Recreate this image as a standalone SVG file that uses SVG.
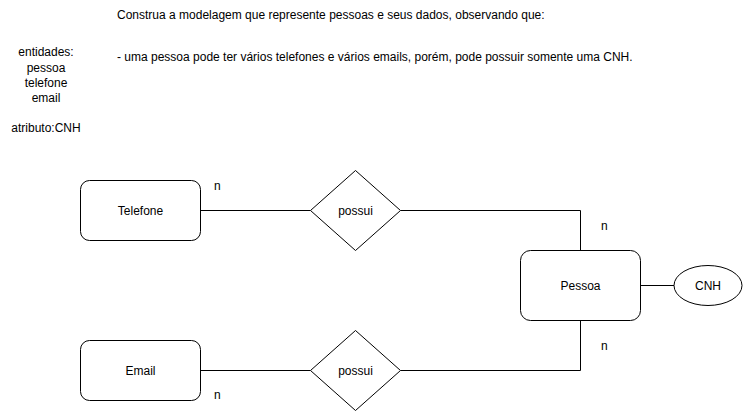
<svg xmlns="http://www.w3.org/2000/svg" width="745" height="411" viewBox="0 0 745 411">
<style>
text{font-family:"Liberation Sans",Arial,sans-serif;font-size:12px;fill:#000}
.c{text-anchor:middle}
.shape{fill:#fff;stroke:#000;stroke-width:1}
.edge{fill:none;stroke:#000;stroke-width:1}
</style>
<rect width="745" height="411" fill="#fff"/>
<g id="texts">
<text x="117" y="19">Construa a modelagem que represente pessoas e seus dados, observando que:</text>
<text x="117" y="61">- uma pessoa pode ter vários telefones e vários emails, porém, pode possuir somente uma CNH.</text>
<text class="c" x="46" y="56">entidades:</text>
<text class="c" x="46" y="72">pessoa</text>
<text class="c" x="46" y="87">telefone</text>
<text class="c" x="46" y="102">email</text>
<text class="c" x="46" y="132">atributo:CNH</text>
</g>
<g id="connectors">
<path class="edge" d="M200.5 210.5H310.5"/>
<path class="edge" d="M400.5 210.5H580.5V250.5"/>
<path class="edge" d="M200.5 370.5H310.5"/>
<path class="edge" d="M400.5 370.5H580.5V320.5"/>
<path class="edge" d="M640.5 285.5H674.5"/>
<text x="214" y="190">n</text>
<text x="214" y="399">n</text>
<text x="601" y="230">n</text>
<text x="601" y="350">n</text>
</g>
<g id="telefone">
<rect class="shape" x="80.5" y="180.5" width="120" height="60" rx="9"/>
<text class="c" x="140.5" y="214.5">Telefone</text>
</g>
<g id="email">
<rect class="shape" x="80.5" y="340.5" width="120" height="60" rx="9"/>
<text class="c" x="140.5" y="374.5">Email</text>
</g>
<g id="possui1">
<polygon class="shape" points="355.5,170.5 400.5,210.5 355.5,250.5 310.5,210.5"/>
<text class="c" x="355.5" y="214.5">possui</text>
</g>
<g id="possui2">
<polygon class="shape" points="355.5,330.5 400.5,370.5 355.5,410.5 310.5,370.5"/>
<text class="c" x="355.5" y="374.5">possui</text>
</g>
<g id="pessoa">
<rect class="shape" x="520.5" y="250.5" width="120" height="70" rx="10"/>
<text class="c" x="580.5" y="289.5">Pessoa</text>
</g>
<g id="cnh">
<ellipse class="shape" cx="708" cy="285.5" rx="34" ry="20"/>
<text class="c" x="708" y="289.5">CNH</text>
</g>
</svg>
